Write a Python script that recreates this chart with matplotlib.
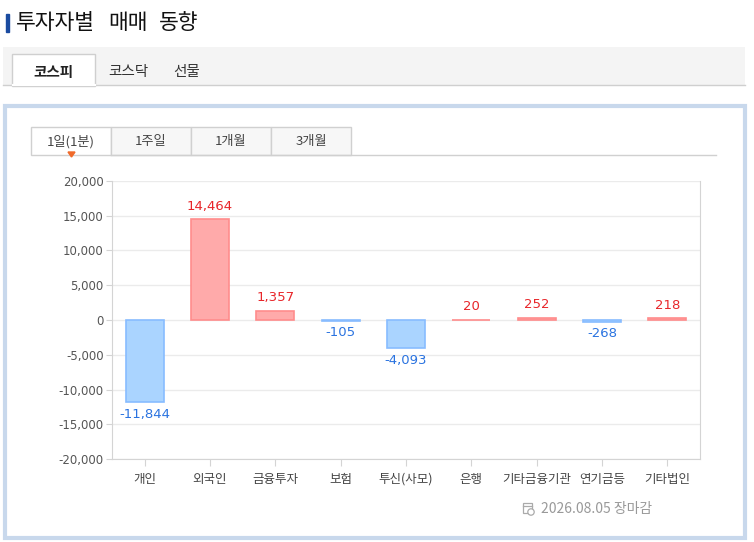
import numpy as np
import matplotlib
matplotlib.use("Agg")
import matplotlib.pyplot as plt
from matplotlib.patches import Rectangle, Polygon, Circle
from matplotlib.ticker import FuncFormatter

plt.rcParams['font.family'] = ['Noto Sans CJK KR', 'DejaVu Sans']

# 데이터
categories = ["개인", "외국인", "금융투자", "보험", "투신(사모)", "은행", "기타금융기관", "연기금등", "기타법인"]
values = [-11844, 14464, 1357, -105, -4093, 20, 252, -268, 218]
yticks = [-20000, -15000, -10000, -5000, 0, 5000, 10000, 15000, 20000]

title_words = ["투자자별", "매매", "동향"]
market_tabs = ["코스피", "코스닥", "선물"]
period_tabs = ["1일(1분)", "1주일", "1개월", "3개월"]
footer = "2026.08.05 장마감"

W, H = 754, 542
fig = plt.figure(figsize=(W / 100, H / 100), dpi=100)

# 배경 장식용 (픽셀 좌표)
bg = fig.add_axes([0, 0, 1, 1], zorder=0)
bg.set_xlim(0, W)
bg.set_ylim(H, 0)
bg.axis("off")

# 제목
bg.add_patch(Rectangle((6, 14), 2.5, 18, color="#1a4ba0"))
for wx, w in zip([16, 108, 159], title_words):
    bg.text(wx, 23, w, fontsize=15.5, va="center", ha="left", color="#111")

# 시장 탭
bg.add_patch(Rectangle((3, 47), 742, 38, facecolor="#f4f4f4", edgecolor="none"))
bg.plot([3, 745], [85, 85], color="#cfcfcf", lw=1)
bg.add_patch(Rectangle((12, 54), 83, 31.5, facecolor="white", edgecolor="#cfcfcf", lw=1))
bg.plot([12.5, 94.5], [85, 85], color="white", lw=1.5)
bg.text(53.5, 72, market_tabs[0], fontsize=10.5, fontweight="bold", ha="center", va="center", color="#222")
bg.text(128.5, 72, market_tabs[1], fontsize=10.5, ha="center", va="center", color="#333")
bg.text(187, 72, market_tabs[2], fontsize=10.5, ha="center", va="center", color="#333")

# 패널 테두리
bg.add_patch(Rectangle((4.5, 105.5), 740, 432, facecolor="white", edgecolor="#c8d8ec", lw=3))

# 기간 탭
tab_x = [31, 111, 191, 271]
for i, lab in enumerate(period_tabs):
    fc = "white" if i == 0 else "#f7f7f7"
    bg.add_patch(Rectangle((tab_x[i], 127), 80, 28, facecolor=fc, edgecolor="#d0d0d0", lw=1))
    bg.text(tab_x[i] + 40, 142, lab, fontsize=9.5, ha="center", va="center", color="#444")
bg.plot([111, 716], [155, 155], color="#d0d0d0", lw=1)
bg.add_patch(Polygon([[68, 152], [75, 152], [71.5, 157]], closed=True, color="#f06a2a"))

# 푸터 (달력 아이콘)
bg.add_patch(Rectangle((522.5, 503), 9, 10, facecolor="none", edgecolor="#aaa", lw=0.9))
bg.plot([522.5, 531.5], [506, 506], color="#aaa", lw=0.9)
bg.add_patch(Circle((531, 512), 3.2, facecolor="white", edgecolor="#aaa", lw=0.9))
bg.text(541, 509, footer, fontsize=10, ha="left", va="center", color="#999")

# 차트
ax = fig.add_axes([112 / W, (H - 459) / H, 588 / W, 278 / H], zorder=1)
x = np.arange(len(categories))
pos_fc, pos_ec = "#ffaaaa", "#ff8c8c"
neg_fc, neg_ec = "#aad4ff", "#88bcff"
fcs = [pos_fc if v >= 0 else neg_fc for v in values]
ecs = [pos_ec if v >= 0 else neg_ec for v in values]
ax.bar(x, values, width=0.58, color=fcs, edgecolor=ecs, linewidth=1.2, zorder=3)

for xi, v in zip(x, values):
    col = "#e8262a" if v >= 0 else "#2a73e0"
    off = 5 if v >= 0 else -4
    ax.annotate(f"{v:,}", (xi, v), xytext=(0, off), textcoords="offset points",
                ha="center", va="bottom" if v >= 0 else "top", fontsize=9.5,
                color=col, family=['DejaVu Sans'])

ax.set_xlim(-0.5, len(categories) - 0.5)
ax.set_ylim(-20000, 20000)
ax.set_yticks(yticks)
ax.yaxis.set_major_formatter(FuncFormatter(lambda v, p: f"{int(v):,}"))
ax.set_xticks(x)
ax.set_xticklabels(categories)
ax.grid(axis="y", color="#ebebeb", lw=1, zorder=0)
for s in ax.spines.values():
    s.set_color("#d4d4d4")
ax.spines["top"].set_visible(False)
ax.tick_params(axis="y", length=4, color="#d4d4d4", labelsize=8.5, labelcolor="#555", pad=2)
ax.tick_params(axis="x", length=5, color="#d4d4d4", labelsize=9, labelcolor="#444", pad=5)
for t in ax.get_yticklabels():
    t.set_family(['DejaVu Sans'])

fig.savefig("out.png", dpi=100)
